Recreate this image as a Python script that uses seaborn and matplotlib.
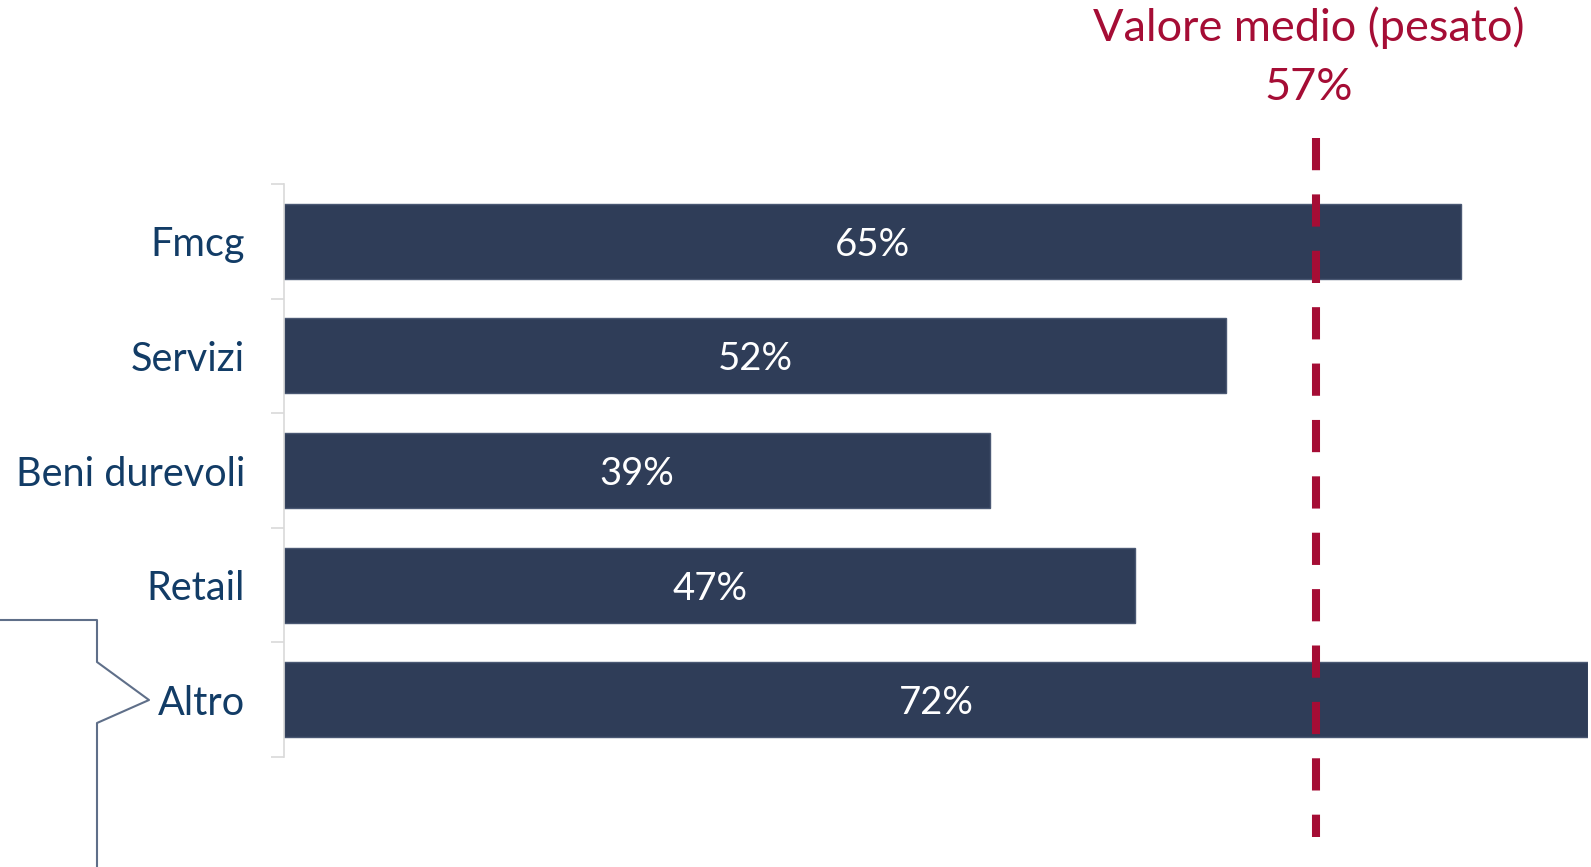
import matplotlib
matplotlib.use("Agg")
import matplotlib.pyplot as plt
import seaborn as sns
import pandas as pd

# data
categories = ["Fmcg", "Servizi", "Beni durevoli", "Retail", "Altro"]
shares = [65, 52, 39, 47, 72]
mean_value = 57
mean_label = "Valore medio (pesato)"

BAR_COLOR = "#2f3d58"
MEAN_COLOR = "#a50d35"
LABEL_COLOR = "#123c66"

sns.set_style("white")
plt.rcParams["font.family"] = ["Lato", "DejaVu Sans"]

df = pd.DataFrame({"categoria": categories, "quota": shares})

fig = plt.figure(figsize=(15.91, 8.67), dpi=100)
ax = fig.add_axes([284 / 1591, 1 - 757 / 867, (1588 - 284) / 1591, (757 - 184) / 867])

sns.barplot(data=df, x="quota", y="categoria", orient="h", color=BAR_COLOR,
            width=0.655, edgecolor="#4a5873", linewidth=1, saturation=1, ax=ax)

# value labels inside the bars
labels = ax.bar_label(ax.containers[0], labels=[f"{v}%" for v in shares],
                      label_type="center", color="white", fontsize=27.5)
for t in labels:
    t.xyann = (0, -2.5)

ax.set_xlim(0, 72)
ax.set_ylim(len(categories) - 0.5, -0.5)
ax.set_xlabel("")
ax.set_ylabel("")
ax.set_xticks([])

# y axis: labels at category centres, ticks at the boundaries
ax.tick_params(axis="y", which="major", left=False, length=0, pad=28, labelsize=28.5,
               labelcolor=LABEL_COLOR)
ax.set_yticks([i - 0.5 for i in range(len(categories) + 1)], minor=True)
ax.tick_params(axis="y", which="minor", left=True, length=9.4, width=1.2, color="#d9d9d9")
for side in ["top", "right", "bottom"]:
    ax.spines[side].set_visible(False)
ax.spines["left"].set_color("#d9d9d9")
ax.spines["left"].set_linewidth(1.2)

# dashed weighted-mean line, running past the axes
ax.plot([mean_value, mean_value], [-0.9, 5.2], color=MEAN_COLOR, linewidth=5.8,
        dashes=(4, 3), clip_on=False, zorder=5)

fig.text(1309 / 1591, 1 - 28 / 867, mean_label, color=MEAN_COLOR,
         fontsize=32.5, ha="center", va="center")
fig.text(1309 / 1591, 1 - 87 / 867, f"{mean_value}%", color=MEAN_COLOR,
         fontsize=32.5, ha="center", va="center")

# callout bracket on the left pointing at "Altro"
fig.add_artist(plt.Line2D([0 / 1591, 97 / 1591, 97 / 1591, 149 / 1591, 97 / 1591, 97 / 1591],
                          [1 - 620 / 867, 1 - 620 / 867, 1 - 662 / 867, 1 - 700 / 867,
                           1 - 723 / 867, 0],
                          color="#5f6f89", linewidth=1.5))

fig.savefig("out.png", dpi=100)
